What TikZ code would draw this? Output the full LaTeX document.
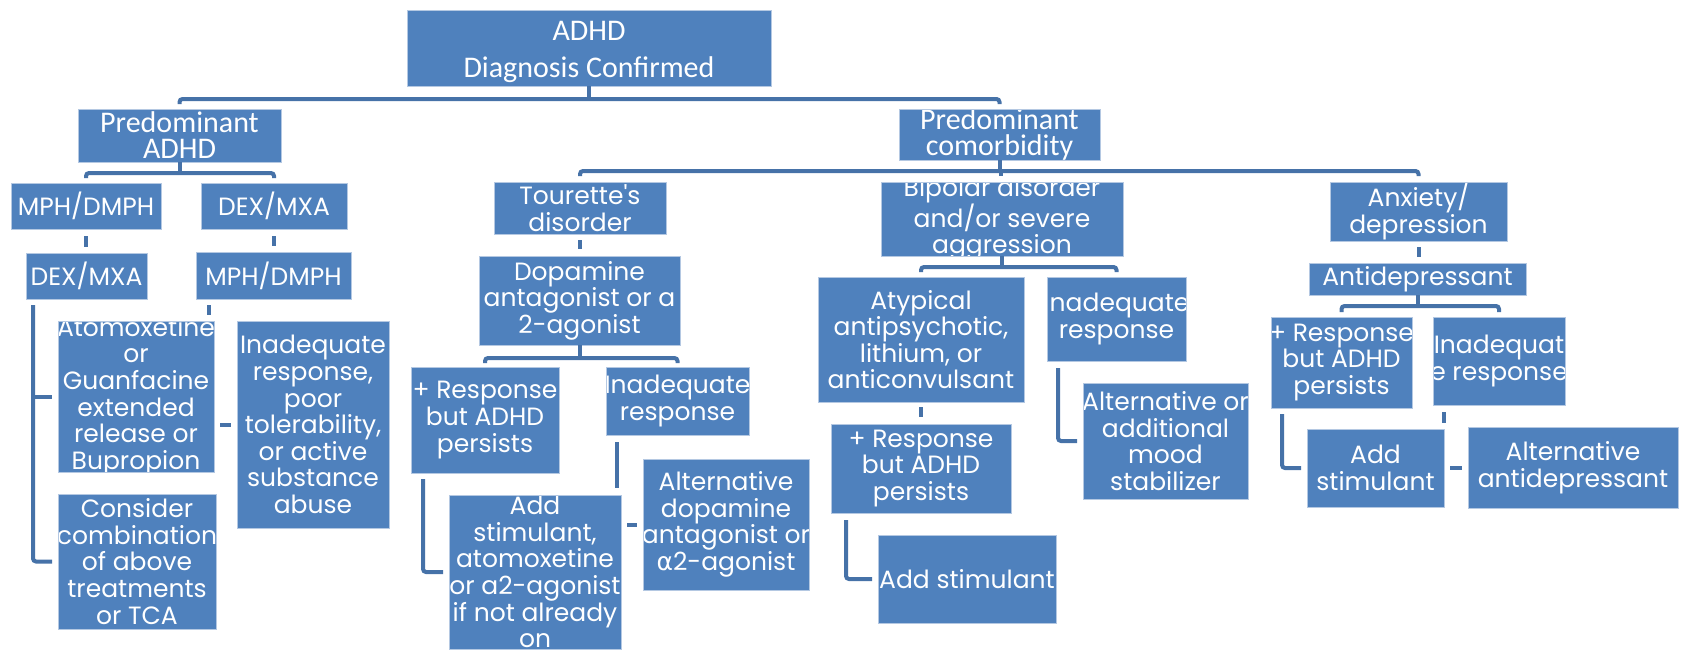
\documentclass[tikz,border=0pt]{standalone}
\usepackage{fontspec}
\setmainfont{Poppins}
\newfontfamily\calfont{Carlito}
\newfontfamily\dejavu{DejaVu Sans}
\usetikzlibrary{calc}
\definecolor{boxblue}{HTML}{4F81BD}
\definecolor{lineblue}{HTML}{4672A8}
\definecolor{edgeblue}{HTML}{B4C8E2}
\tikzset{
  box/.style={rectangle, fill=boxblue, draw=edgeblue, line width=0.8pt, inner sep=0pt, outer sep=0pt},
  txt/.style={text=white, align=center, inner sep=0pt, font=\fontsize{25}{26.6}\selectfont},
  caltxt/.style={text=white, align=center, inner sep=0pt, font=\calfont\fontsize{30}{26}\selectfont},
  adhdtxt/.style={text=white, align=center, inner sep=0pt, yshift=-3.5pt, font=\calfont\fontsize{30}{37}\selectfont},
  conn/.style={draw=lineblue, line width=4pt},
  bus/.style={conn, rounded corners=3pt},
}
\newcommand{\bx}[7][txt]{%
  \node[box, minimum width={(#5)-(#3)}, minimum height={(#6)-(#4)},
        path picture={\node[#1] (#2-t) at (path picture bounding box.center) {#7};}]
        (#2) at ({((#3)+(#5))/2},{((#4)+(#6))/2}) {};
}
\begin{document}
\begin{tikzpicture}[x=1pt,y=-1pt]
\useasboundingbox (0,0) rectangle (1681,651);
% boxes
\bx[adhdtxt]{adhd}{407}{10}{771}{86}{ADHD\\Diagnosis Confirmed}
\bx[caltxt]{predadhd}{78}{109}{281}{162}{Predominant\\ADHD}
\bx[caltxt]{predcom}{899}{109}{1100}{160}{Predominant\\comorbidity}
\bx{mph1}{11}{183}{161}{229}{MPH/DMPH}
\bx{dex1}{201}{183}{347}{229}{DEX/MXA}
\bx{dex2}{26}{253}{147}{299}{DEX/MXA}
\bx{mph2}{196}{252}{351}{299}{MPH/DMPH}
\bx{atom}{58}{321}{214}{472}{Atomoxetine\\or\\Guanfacine\\extended\\release or\\Bupropion}
\bx{consider}{58}{494}{216}{629}{Consider\\combination\\of above\\treatments\\or TCA}
\bx{inad1}{237}{321}{389}{528}{Inadequate\\response,\\poor\\tolerability,\\or active\\substance\\abuse}
\bx{tour}{494}{182}{666}{234}{Tourette\textquotesingle s\\disorder}
\bx{dopa}{479}{256}{680}{345}{Dopamine\\antagonist or a\\2-agonist}
\bx{resp1}{411}{367}{559}{473}{+ Response\\but ADHD\\persists}
\bx{inad2}{606}{367}{749}{435}{Inadequate\\response}
\bx{addst1}{449}{495}{621}{649}{Add\\stimulant,\\atomoxetine\\or a2-agonist\\if not already\\on}
\bx{altdopa}{643}{459}{809}{590}{Alternative\\dopamine\\antagonist or\\{\dejavu α}2-agonist}
\bx{bip}{881}{182}{1123}{256}{Bipolar disorder\\and/or severe\\aggression}
\bx{atyp}{818}{277}{1024}{402}{Atypical\\antipsychotic,\\lithium, or\\anticonvulsant}
\bx{inad3}{1047}{277}{1186}{361}{Inadequate\\response}
\bx{resp2}{831}{424}{1011}{513}{+ Response\\but ADHD\\persists}
\bx{addst2}{878}{535}{1056}{623}{Add stimulant}
\bx{mood}{1083}{383}{1248}{499}{Alternative or\\additional\\mood\\stabilizer}
\bx{anx}{1330}{182}{1507}{241}{Anxiety/\\depression}
\bx{antid}{1309}{263}{1526}{295}{Antidepressant}
\bx{resp3}{1271}{317}{1412}{408}{+ Response\\but ADHD\\persists}
\bx{inad4}{1433}{317}{1565}{405}{Inadequat\\e response}
\bx{addst3}{1307}{429}{1444}{507}{Add\\stimulant}
\bx{altanti}{1468}{427}{1678}{508}{Alternative\\antidepressant}
% top bus
\coordinate (b0) at (588,99);
\draw[conn] (adhd.south) -- (adhd.south |- b0);
\draw[bus] ($(predadhd.north)+(0,-5)$) |- (b0) -| ($(predcom.north)+(0,-5)$);
% predominant ADHD
\coordinate (b1) at (179,173);
\draw[conn] (predadhd.south) -- (predadhd.south |- b1);
\draw[bus] ($(mph1.north)+(0,-5)$) |- (b1) -| ($(dex1.north)+(0,-5)$);
\draw[conn, shorten <=7pt, shorten >=6pt] (mph1.south) -- (mph1.south |- dex2.north);
\draw[conn, shorten <=7pt, shorten >=6pt] (dex1.south) -- (dex1.south |- mph2.north);
\coordinate (bl) at ($(dex2.south west)+(7,6)$);
\draw[bus] (bl) |- ($(consider.west)+(-6,0)$);
\draw[conn] (bl |- atom.west) -- ($(atom.west)+(-6,0)$);
\draw[conn] ($(mph2.south west)+(13,6)$) -- ++(0,10);
\draw[conn, shorten <=6pt, shorten >=6pt] (inad1.west -| atom.east) -- (inad1.west);
% comorbidity
\coordinate (b2) at (1001,171);
\draw[conn] (predcom.south) -- (predcom.south |- b2);
\draw[bus] ($(tour.north)+(0,-6)$) |- (b2) -| ($(anx.north)+(0,-6)$);
\draw[conn, shorten >=6pt] (b2) -- (b2 |- bip.north);
% Tourette
\draw[conn, shorten <=6pt, shorten >=7pt] (tour.south) -- (tour.south |- dopa.north);
\coordinate (b3) at (580,358);
\draw[conn] (dopa.south) -- (dopa.south |- b3);
\draw[bus] ($(resp1.north)+(0,-4)$) |- (b3) -| ($(inad2.north)+(0,-4)$);
\draw[conn] ($(inad2.south west)+(11,7)$) -- ++(0,46);
\coordinate (bt) at ($(resp1.south west)+(12,6)$);
\draw[bus] (bt) |- ($(addst1.west)+(-6,0)$);
\draw[conn, shorten <=6pt, shorten >=6pt] (altdopa.west -| addst1.east) -- (altdopa.west);
% Bipolar
\coordinate (b4) at (1002,267);
\draw[conn] (bip.south) -- (bip.south |- b4);
\draw[bus] ($(atyp.north)+(0,-5)$) |- (b4) -| ($(inad3.north)+(0,-5)$);
\draw[conn, shorten <=5pt, shorten >=7pt] (atyp.south) -- (atyp.south |- resp2.north);
\coordinate (bb) at ($(resp2.south west)+(15,7)$);
\draw[bus] (bb) |- ($(addst2.west)+(-6,0)$);
\coordinate (bc) at ($(inad3.south west)+(11,7)$);
\draw[bus] (bc) |- ($(mood.west)+(-6,0)$);
% Anxiety
\draw[conn, shorten <=6pt, shorten >=6pt] (anx.south) -- (anx.south |- antid.north);
\coordinate (b5) at (1418,306);
\draw[conn] (antid.south) -- (antid.south |- b5);
\draw[bus] ($(resp3.north)+(0,-5)$) |- (b5) -| ($(inad4.north)+(0,-5)$);
\draw[conn] ($(inad4.south west)+(11,7)$) -- ++(0,11);
\coordinate (bd) at ($(resp3.south west)+(11,6)$);
\draw[bus] (bd) |- ($(addst3.west)+(-6,0)$);
\draw[conn, shorten <=6pt, shorten >=6pt] (altanti.west -| addst3.east) -- (altanti.west);
\end{tikzpicture}
\end{document}
